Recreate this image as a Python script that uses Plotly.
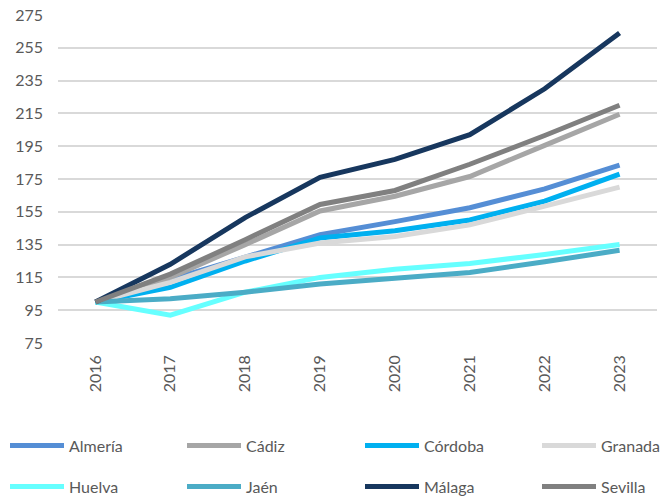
import plotly.graph_objects as go

years = ["2016", "2017", "2018", "2019", "2020", "2021", "2022", "2023"]

almeria = [100, 113.5, 127.5, 141, 149, 157.5, 169, 183.5]
cadiz = [100, 115, 135, 155.5, 164.5, 176.5, 195.5, 214.5]
cordoba = [100, 109, 125, 139, 143.5, 150, 161.5, 178]
granada = [100, 112, 127.5, 136, 140, 147, 158.5, 170]
huelva = [100, 92, 106, 115, 120, 123.5, 129, 135]
jaen = [100, 102, 106, 111, 114.5, 118, 124.5, 131.5]
malaga = [100, 123, 151.5, 176, 187, 202, 230, 264]
sevilla = [100, 117, 138, 159.5, 168, 184, 201.5, 220]

series_names = ["Almería", "Cádiz", "Córdoba", "Granada", "Huelva", "Jaén", "Málaga", "Sevilla"]
series_values = [almeria, cadiz, cordoba, granada, huelva, jaen, malaga, sevilla]
colors = ["#558ED5", "#A6A6A6", "#00B0F0", "#D9D9D9", "#66FFFF", "#4BACC6", "#17375E", "#808080"]
legend_ids = ["legend", "legend", "legend2", "legend2", "legend3", "legend3", "legend4", "legend4"]

y_ticks = [75, 95, 115, 135, 155, 175, 195, 215, 235, 255, 275]

FONT = "Lato"
TXT = "#595959"

# page has an 8px body margin; figure coordinates are offset by it
W, H = 661, 490
L, R, T = 50, 12, 7.3
PLOT_H = 328
B = H - T - PLOT_H
PLOT_W = W - L - R


def px_x(x_page):
    return (x_page - 8 - L) / PLOT_W


def px_y(y_page):
    return (T + PLOT_H - (y_page - 8)) / PLOT_H


fig = go.Figure()
for name, vals, col, lg in zip(series_names, series_values, colors, legend_ids):
    fig.add_trace(go.Scatter(
        x=years, y=vals, name=name, mode="lines",
        line=dict(color=col, width=5),
        legend=lg,
    ))

leg_common = dict(
    orientation="h", xanchor="left", yanchor="middle",
    font=dict(family=FONT, size=16, color=TXT),
    itemwidth=54, entrywidth=108, bgcolor="rgba(0,0,0,0)",
    itemclick=False, itemdoubleclick=False,
)

fig.update_layout(
    width=W, height=H,
    margin=dict(l=L, r=R, t=T, b=B, autoexpand=False),
    paper_bgcolor="white", plot_bgcolor="white",
    font=dict(family=FONT, size=16, color=TXT),
    showlegend=True,
    legend=dict(x=px_x(5), y=px_y(446), **leg_common),
    legend2=dict(x=px_x(360), y=px_y(446), **leg_common),
    legend3=dict(x=px_x(5), y=px_y(487), **leg_common),
    legend4=dict(x=px_x(360), y=px_y(487), **leg_common),
    xaxis=dict(
        type="category", range=[-0.5, 7.5], tickangle=-90, showgrid=False,
        showline=False, zeroline=False, ticks="", ticklabelstandoff=8,
        tickfont=dict(family=FONT, size=16, color=TXT),
    ),
    yaxis=dict(
        range=[75, 275], tickvals=y_ticks, showgrid=True,
        gridcolor="#D9D9D9", gridwidth=2, zeroline=False, showline=False,
        ticks="", ticklabelstandoff=14, ticklabeloverflow="allow",
        tickfont=dict(family=FONT, size=16, color=TXT),
    ),
)

fig.write_html("out.html")
